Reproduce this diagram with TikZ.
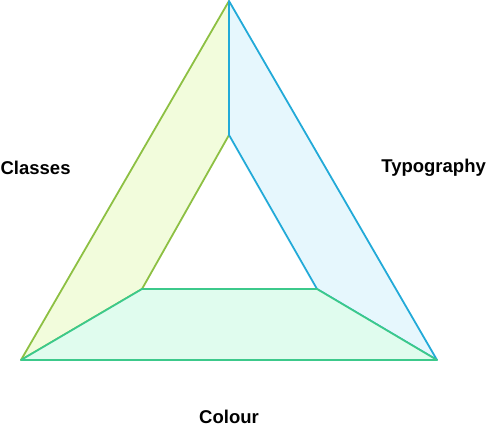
\documentclass[tikz,border=0pt]{standalone}
\usepackage{fontspec}
\setmainfont{Liberation Sans}
\usepackage[svgnames]{xcolor}
\definecolor{ClassLine}{HTML}{8DC043}
\definecolor{ClassFill}{HTML}{F2FCDC}
\definecolor{TypoLine}{HTML}{22AAD8}
\definecolor{TypoFill}{HTML}{E6F7FD}
\definecolor{ColourLine}{HTML}{3CC98B}
\definecolor{ColourFill}{HTML}{E0FCEE}
\tikzstyle{none}=[inner sep=0pt]
\tikzstyle{label}=[inner sep=0pt,font=\bfseries\fontsize{18.5}{21}\selectfont]
\tikzstyle{classes}=[draw=ClassLine,fill=ClassFill,line width=1.8pt,line join=round]
\tikzstyle{typo}=[draw=TypoLine,fill=TypoFill,line width=1.8pt,line join=round]
\tikzstyle{colour}=[draw=ColourLine,fill=ColourFill,line width=1.8pt,line join=round]
\pgfdeclarelayer{edgelayer}
\pgfdeclarelayer{nodelayer}
\pgfsetlayers{edgelayer,nodelayer,main}
\begin{document}
\begin{tikzpicture}[x=20pt,y=20pt]
	\useasboundingbox (0, 0) rectangle (24.35, 21.5);
	\begin{pgfonlayer}{nodelayer}
		\node [style=none] (0) at (11.45, 21.45) {};
		\node [style=none] (1) at (1.05, 3.5) {};
		\node [style=none] (2) at (21.85, 3.5) {};
		\node [style=none] (3) at (11.45, 14.75) {};
		\node [style=none] (4) at (7.1, 7.05) {};
		\node [style=none] (5) at (15.85, 7.05) {};
		\node [style=label] (6) at (1.78, 13.1) {Classes};
		\node [style=label] (7) at (21.68, 13.1) {Typography};
		\node [style=label] (8) at (11.45, 0.65) {Colour};
	\end{pgfonlayer}
	\begin{pgfonlayer}{edgelayer}
		\draw [style=classes] (0.center) -- (1.center) -- (4.center) -- (3.center) -- cycle;
		\draw [style=typo] (0.center) -- (2.center) -- (5.center) -- (3.center) -- cycle;
		\draw [style=colour] (1.center) -- (2.center) -- (5.center) -- (4.center) -- cycle;
	\end{pgfonlayer}
\end{tikzpicture}
\end{document}
